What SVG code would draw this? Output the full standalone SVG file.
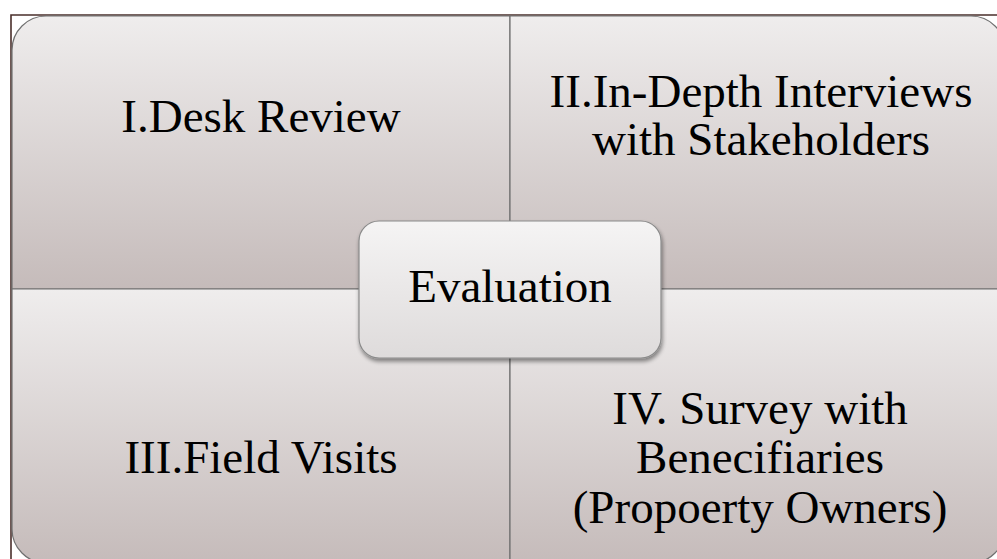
<svg xmlns="http://www.w3.org/2000/svg" width="997" height="559" viewBox="0 0 997 559">
<defs>
<linearGradient id="qg" x1="0" y1="0" x2="0" y2="1">
<stop offset="0" stop-color="#efeded"/>
<stop offset="1" stop-color="#c5bbba"/>
</linearGradient>
<linearGradient id="cg" x1="0" y1="0" x2="0" y2="1">
<stop offset="0" stop-color="#f5f4f4"/>
<stop offset="1" stop-color="#dedbdb"/>
</linearGradient>
<filter id="sh" x="-10%" y="-10%" width="120%" height="130%">
<feGaussianBlur in="SourceAlpha" stdDeviation="2"/>
<feOffset dx="1" dy="3"/>
<feComponentTransfer><feFuncA type="linear" slope="0.45"/></feComponentTransfer>
<feMerge><feMergeNode/><feMergeNode in="SourceGraphic"/></feMerge>
</filter>
<style>
.q{fill:url(#qg);stroke:#707070;stroke-width:1.2}
.t{font-family:"Liberation Serif","Times New Roman",serif;font-size:47px;fill:#000;text-anchor:middle}
</style>
</defs>
<rect x="0" y="0" width="997" height="559" fill="#ffffff"/>
<path d="M11 559 V15 H997" fill="none" stroke="#4a2f2b" stroke-width="1.6"/>
<g id="q1">
<path class="q" d="M12 50 A34 34 0 0 1 46 16 H510 V289 H12 Z"/>
<text class="t" x="261" y="132">I.Desk Review</text>
</g>
<g id="q2">
<path class="q" d="M510 16 H971 A34 34 0 0 1 1005 50 V289 H510 Z"/>
<text class="t" x="761" y="107">II.In-Depth Interviews</text>
<text class="t" x="761" y="155">with Stakeholders</text>
</g>
<g id="q3">
<path class="q" d="M12 289 H510 V563 H46 A34 34 0 0 1 12 529 Z"/>
<text class="t" x="261" y="473">III.Field Visits</text>
</g>
<g id="q4">
<path class="q" d="M510 289 H1005 V529 A34 34 0 0 1 971 563 H510 Z"/>
<text class="t" x="760" y="424">IV. Survey with</text>
<text class="t" x="760" y="473">Benecifiaries</text>
<text class="t" x="760" y="523">(Propoerty Owners)</text>
</g>
<g id="connectors"></g>
<g id="center">
<rect x="359" y="221" width="302" height="137" rx="20" ry="20" fill="url(#cg)" stroke="#8a8a8a" stroke-width="1.2" filter="url(#sh)"/>
<text class="t" x="510" y="302">Evaluation</text>
</g>
</svg>
